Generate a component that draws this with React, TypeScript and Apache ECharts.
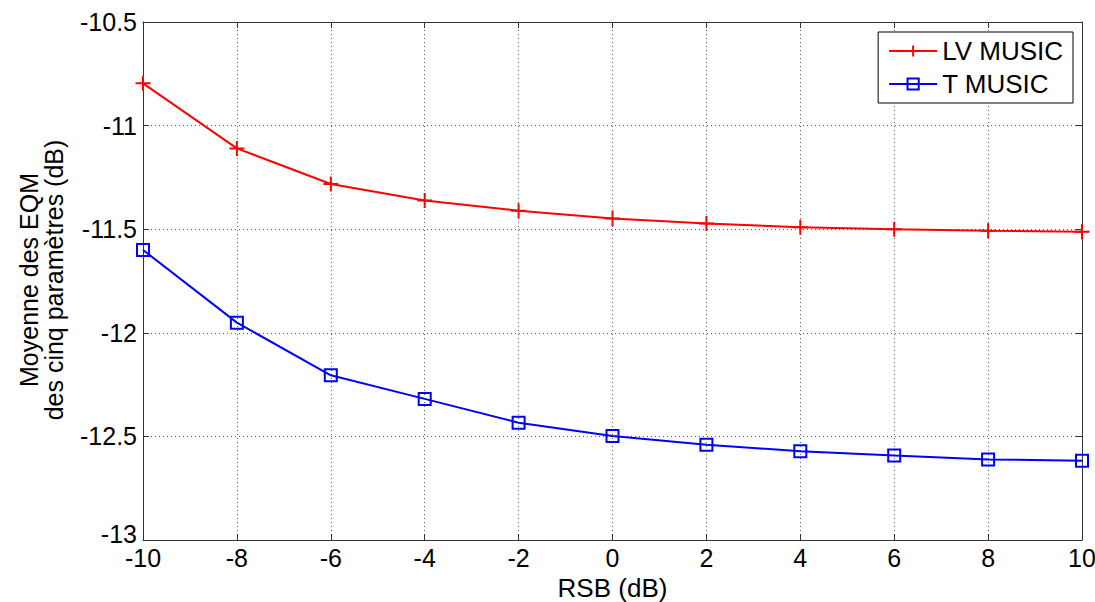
import React, { useEffect, useRef } from "react";
import * as echarts from "echarts";

const snr = [-10, -8, -6, -4, -2, 0, 2, 4, 6, 8, 10];
const lvMusic = [-10.796, -11.11, -11.282, -11.362, -11.411, -11.448, -11.472, -11.491, -11.5, -11.507, -11.512];
const tMusic = [-11.6, -11.951, -12.205, -12.319, -12.434, -12.498, -12.54, -12.572, -12.592, -12.611, -12.617];
const seriesNames = ["LV MUSIC", "T MUSIC"];
const xTitle = "RSB (dB)";
const yTitleLines = ["Moyenne des EQM", "des cinq paramètres (dB)"];

const FONT = 'Arial, "Liberation Sans", sans-serif';

export default function App() {
  const ref = useRef<HTMLDivElement>(null);
  useEffect(() => {
    if (!ref.current) return;
    const chart = echarts.init(ref.current, undefined, { renderer: "svg" });
    const gridLine = { show: true, lineStyle: { color: "#555", type: [1, 3] as any, width: 1 } };
    const axisLine = { show: true, onZero: false, lineStyle: { color: "#333", width: 1 } };
    const tick = { show: true, inside: true, length: 6, lineStyle: { color: "#333" } };
    chart.setOption({
      animation: false,
      backgroundColor: "#fff",
      textStyle: { fontFamily: FONT },
      grid: { left: 143, right: 13, top: 22, bottom: 62, containLabel: false, outerBoundsMode: "none" },
      legend: {
        orient: "vertical",
        right: 22,
        top: 32,
        backgroundColor: "#fff",
        borderColor: "#000",
        borderWidth: 1,
        borderRadius: 0,
        padding: [6, 10, 6, 10],
        itemGap: 7,
        itemWidth: 48,
        itemHeight: 14,
        textStyle: { fontSize: 26, color: "#000", fontFamily: FONT },
        data: seriesNames,
      },
      xAxis: [
        {
          type: "value",
          min: -10,
          max: 10,
          interval: 2,
          name: xTitle,
          nameLocation: "middle",
          nameGap: 32,
          nameTextStyle: { fontSize: 26, color: "#000", fontFamily: FONT },
          axisLine,
          axisTick: tick,
          splitLine: gridLine,
          axisLabel: { fontSize: 25, color: "#000", margin: 5, fontFamily: FONT },
        },
        {
          type: "value",
          position: "top",
          min: -10,
          max: 10,
          interval: 2,
          axisLine,
          axisTick: tick,
          splitLine: { show: false },
          axisLabel: { show: false },
        },
      ],
      yAxis: [
        {
          type: "value",
          min: -13,
          max: -10.5,
          interval: 0.5,
          axisLine,
          axisTick: tick,
          splitLine: gridLine,
          axisLabel: {
            fontSize: 25,
            color: "#000",
            margin: 6,
            fontFamily: FONT,
            formatter: (v: number) => (v === -13 ? "{m|" + v + "}" : String(v)),
            rich: { m: { fontSize: 25, color: "#000", fontFamily: FONT, padding: [0, 0, 12, 0] } },
          },
        },
        {
          type: "value",
          position: "right",
          min: -13,
          max: -10.5,
          interval: 0.5,
          axisLine,
          axisTick: tick,
          splitLine: { show: false },
          axisLabel: { show: false },
        },
      ],
      graphic: [
        {
          type: "text",
          x: 41,
          y: 280,
          rotation: Math.PI / 2,
          style: {
            text: yTitleLines.join("\n"),
            font: `25px ${FONT}`,
            fill: "#000",
            align: "center",
            verticalAlign: "middle",
            lineHeight: 25,
          },
        },
      ],
      series: [
        {
          name: seriesNames[0],
          type: "line",
          data: snr.map((x, i) => [x, lvMusic[i]]),
          lineStyle: { color: "#ff0000", width: 2 },
          symbol: "path://M7,0 L7,14 M0,7 L14,7",
          symbolSize: 15,
          itemStyle: { color: "#ff0000", borderColor: "#ff0000", borderWidth: 2 },
          z: 3,
        },
        {
          name: seriesNames[1],
          type: "line",
          data: snr.map((x, i) => [x, tMusic[i]]),
          lineStyle: { color: "#0000ff", width: 2 },
          symbol: "rect",
          symbolSize: 12,
          itemStyle: { color: "rgba(0,0,0,0)", borderColor: "#0000ff", borderWidth: 2 },
          z: 3,
        },
      ],
    });
    return () => chart.dispose();
  }, []);
  return <div ref={ref} style={{ width: 1095, height: 602, position: "absolute", left: 0, top: 0 }} />;
}
